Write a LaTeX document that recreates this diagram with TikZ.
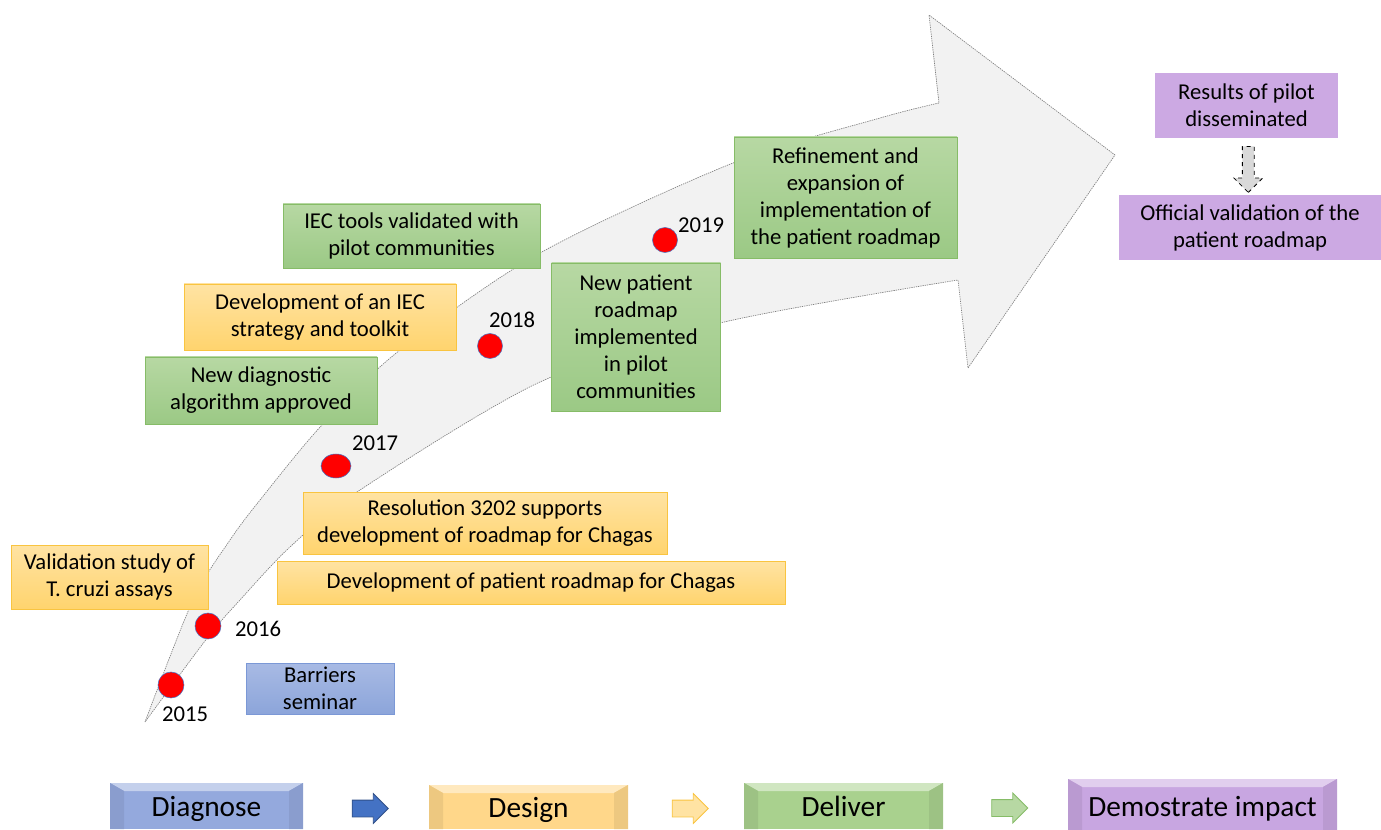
\documentclass[tikz,border=0pt]{standalone}
\usepackage{fontspec}
\setmainfont{Carlito}
\usetikzlibrary{calc,shapes.geometric,shapes.arrows}

\definecolor{otop}{HTML}{FFE3A3}
\definecolor{obot}{HTML}{FFD46E}
\definecolor{oline}{HTML}{F9C440}
\definecolor{gtop}{HTML}{B7D8A3}
\definecolor{gbot}{HTML}{9BC985}
\definecolor{gline}{HTML}{86BC67}
\definecolor{btop}{HTML}{A8BAE4}
\definecolor{bbot}{HTML}{8CA5DA}
\definecolor{bline}{HTML}{7B98D6}
\definecolor{purp}{HTML}{CCA9E3}
\definecolor{shaft}{HTML}{F2F2F2}
\definecolor{dotline}{HTML}{4472C4}
\definecolor{phblue}{HTML}{94A9DD}
\definecolor{phorange}{HTML}{FFD78A}
\definecolor{phgreen}{HTML}{A9D18E}
\definecolor{phpurple}{HTML}{C8A6E1}

\newcommand{\px}{0.75pt}
\newcommand{\boxfont}{\fontsize{17}{20.25}\selectfont}
\newcommand{\phasefont}{\fontsize{22}{25}\selectfont}

\tikzset{
  card/.style={align=center, inner sep=0pt, font=\boxfont, line width=0.6pt},
  orangecard/.style={card, draw=oline, top color=otop, bottom color=obot},
  greencard/.style={card, draw=gline, top color=gtop, bottom color=gbot},
  bluecard/.style={card, draw=bline, top color=btop, bottom color=bbot},
  purplecard/.style={card, fill=purp},
  dot/.style={ellipse, fill=red, draw=dotline, line width=0.4pt,
    minimum width=26*\px, minimum height=26*\px, inner sep=0pt},
  year/.style={font=\boxfont, inner sep=0pt},
  phase/.style={inner sep=0pt, font=\phasefont, fill=#1,
    path picture={
      \fill[#1!55!white] (path picture bounding box.north west)
        -- (path picture bounding box.north east)
        -- ([xshift=-10.5pt,yshift=-6pt]path picture bounding box.north east)
        -- ([xshift=10.5pt,yshift=-6pt]path picture bounding box.north west) -- cycle;
      \fill[#1!93!black] (path picture bounding box.north west)
        -- ([xshift=10.5pt,yshift=-6pt]path picture bounding box.north west)
        -- ([xshift=10.5pt]path picture bounding box.south west)
        -- (path picture bounding box.south west) -- cycle;
      \fill[#1!93!black] (path picture bounding box.north east)
        -- ([xshift=-10.5pt,yshift=-6pt]path picture bounding box.north east)
        -- ([xshift=-10.5pt]path picture bounding box.south east)
        -- (path picture bounding box.south east) -- cycle;
    }},
  phasearrow/.style={single arrow, inner xsep=0pt, inner ysep=8*\px, line width=0.6pt,
    minimum height=36*\px, single arrow head extend=6.5*\px},
}

\begin{document}
\begin{tikzpicture}[x=0.75pt, y=-0.75pt]
  \useasboundingbox (0,0) rectangle (1381,830);

  % the big grey arrow
  \filldraw[fill=shaft, draw=gray, line width=0.5pt, dash pattern=on 1pt off 0.7pt]
    plot[smooth] coordinates {(145,722) (193,600) (230,540) (260,500) (322,425)
      (400,350) (540,253) (733,163) (880,118) (939,103)}
    -- (929,15) -- (1115,155) -- (968,368) -- (958,280)
    -- plot[smooth] coordinates {(958,280) (720,323) (540,382) (360,490)
      (290,547) (240,600) (208,637) (145,722)} -- cycle;

  % milestones along the arrow
  \node[dot] (d15) at (171,685) {};
  \node[dot] (d16) at (208,626) {};
  \node[dot, minimum width=30*\px, minimum height=24*\px] (d17) at (336,466) {};
  \node[dot, minimum width=25*\px, minimum height=25*\px] (d18) at (490,346) {};
  \node[dot, minimum width=25*\px, minimum height=25*\px] (d19) at (665,240) {};
  \node[year] (y15) at (185,714) {2015};
  \node[year] (y16) at (258,629) {2016};
  \node[year] (y17) at (375,443) {2017};
  \node[year] (y18) at (512,320) {2018};
  \node[year] (y19) at (701,225) {2019};

  % activity boxes
  \node[orangecard, minimum width=197*\px, minimum height=64*\px] (tcruzi)
    at (109.5,577) {Validation study of\\T. cruzi assays};
  \node[bluecard, minimum width=148*\px, minimum height=51*\px] (barriers)
    at (320,688.5) {Barriers\\seminar};
  \node[orangecard, minimum width=364*\px, minimum height=62*\px] (resol)
    at (485,523) {Resolution 3202 supports\\development of roadmap for Chagas};
  \node[orangecard, minimum width=508*\px, minimum height=43*\px] (devroad)
    at (531,582.5) {Development of patient roadmap for Chagas};
  \node[greencard, minimum width=232*\px, minimum height=67*\px] (algo)
    at (261,390.5) {New diagnostic\\algorithm approved};
  \node[orangecard, minimum width=272*\px, minimum height=66*\px] (iecdev)
    at (320,317) {Development of an IEC\\strategy and toolkit};
  \node[greencard, minimum width=257*\px, minimum height=64*\px] (iecval)
    at (411.5,236) {IEC tools validated with\\pilot communities};
  \node[greencard, minimum width=169*\px, minimum height=148*\px] (newroad)
    at (636,337) {New patient\\roadmap\\implemented\\in pilot\\communities};
  \node[greencard, minimum width=223*\px, minimum height=121*\px] (refine)
    at (845.5,197.5) {Refinement and\\expansion of\\implementation of\\the patient roadmap};
  \node[purplecard, minimum width=183*\px, minimum height=65*\px] (results)
    at (1246.5,105.5) {Results of pilot\\disseminated};
  \node[purplecard, minimum width=262*\px, minimum height=65*\px] (official)
    at (1250,227.5) {Official validation of the\\patient roadmap};
  \node[single arrow, rotate=-90, fill=black!15, draw=black, dashed, line width=0.6pt,
    inner xsep=0pt, inner ysep=5.5*\px, minimum height=46*\px,
    single arrow head extend=8.5*\px] (down)
    at ($(results.south)!0.5!(official.north)$) {};

  % phases
  \node[phase=phblue, minimum width=193*\px, minimum height=46*\px, text depth=-1pt] (diag)
    at (206.5,806) {Diagnose};
  \node[phase=phorange, minimum width=199*\px, minimum height=44*\px, text depth=-1pt] (design)
    at (528.5,807) {Design};
  \node[phase=phgreen, minimum width=199*\px, minimum height=46*\px, text depth=-1pt] (deliver)
    at (843.5,806) {Deliver};
  \node[phase=phpurple, minimum width=269*\px, minimum height=54*\px, text depth=-1pt] (impact)
    at (1202.5,806) {Demostrate impact};
  \node[phasearrow, fill=dotline, draw=dotline!70!black, yshift=-1.5pt] (a1)
    at ($(diag.east)!0.5!(design.west)$) {};
  \node[phasearrow, fill=otop, draw=oline, yshift=-1.5pt] (a2)
    at ($(design.east)!0.5!(deliver.west)$) {};
  \node[phasearrow, fill=gtop, draw=gline, yshift=-1.5pt] (a3)
    at ($(deliver.east)!0.5!(impact.west)$) {};
\end{tikzpicture}
\end{document}
